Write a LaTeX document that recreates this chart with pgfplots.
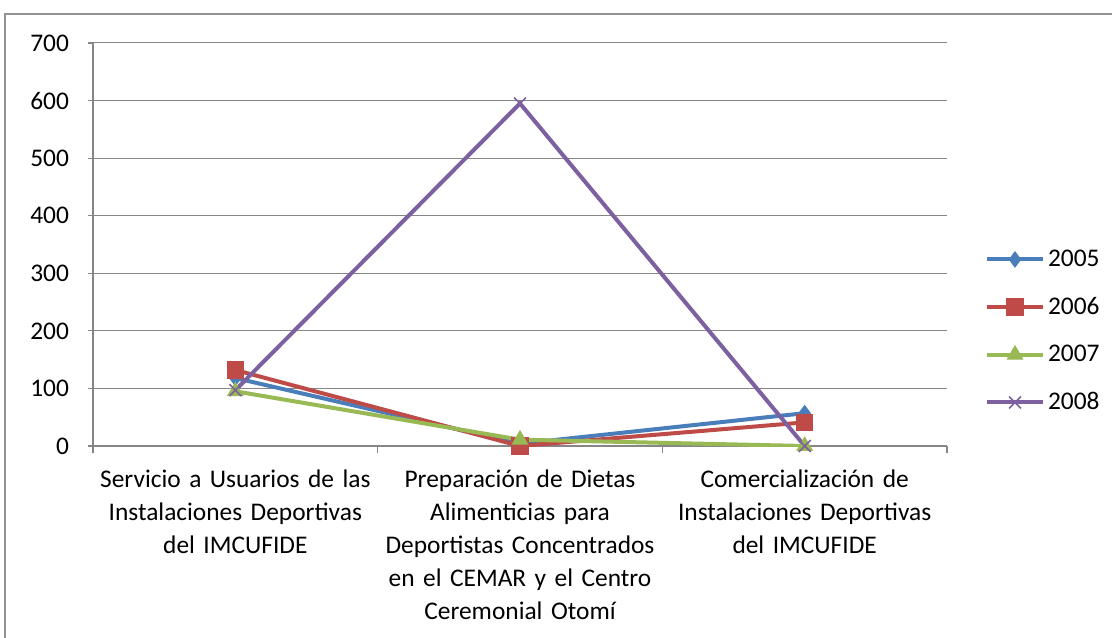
\documentclass[border=0pt]{standalone}
\usepackage{pgfplots}
\pgfplotsset{compat=1.18}
\usepackage{fontspec}
\setmainfont{Carlito}
\definecolor{c05}{HTML}{4A7EBB}
\definecolor{c06}{HTML}{BE4B48}
\definecolor{c07}{HTML}{98B954}
\definecolor{c08}{HTML}{7D60A0}
\definecolor{gridc}{HTML}{868686}
\begin{document}
\begin{tikzpicture}
\useasboundingbox (0,0) rectangle (556pt,318.5pt);
\draw[color=gridc!90, line width=1pt] (2.5pt,-2pt) -- (2.5pt,311.5pt) -- (560pt,311.5pt);
\begin{axis}[
  at={(46.5pt,95.5pt)}, anchor=south west,
  scale only axis, width=427pt, height=201.5pt,
  font=\fontsize{12.7}{16.5}\selectfont,
  /pgf/number format/assume math mode=true,
  xmin=-0.5, xmax=2.5, ymin=0, ymax=700,
  ytick={0,100,...,700},
  xtick={0,1,2},
  minor xtick={-0.5,0.5,1.5,2.5},
  xticklabels={{Servicio a Usuarios de las\\Instalaciones Deportivas\\del IMCUFIDE},
               {Preparación de Dietas\\Alimenticias para\\Deportistas Concentrados\\en el CEMAR y el Centro\\Ceremonial Otomí},
               {Comercialización de\\Instalaciones Deportivas\\del IMCUFIDE}},
  xticklabel style={align=center, text width=160pt, yshift=-6pt},
  yticklabel style={xshift=-6pt},
  axis x line*=bottom, axis y line*=left,
  axis line style={gridc, line width=0.6pt, -},
  ymajorgrids, grid style={gridc, line width=0.5pt},
  tick align=outside,
  major tick length=2.5pt, minor tick length=3.5pt,
  major x tick style={draw=none},
  minor x tick style={gridc, line width=0.6pt},
  major y tick style={gridc, line width=0.6pt},
  legend style={draw=none, fill=none, at={(1.037,0.285)}, anchor=west, row sep=9.9pt,
    font=\fontsize{12.7}{14}\selectfont, nodes={inner xsep=1.5pt}},
  legend cell align=left,
  legend image code/.code={\draw[mark repeat=2,mark phase=2] plot coordinates {(0pt,0pt)(14pt,0pt)(28pt,0pt)};},
  every axis plot/.append style={line width=2pt},
]
\addplot[c05, mark=diamond*, mark size=3.8pt, mark options={solid, line width=0.5pt}] coordinates {(0,118) (1,4) (2,57)};
\addlegendentry{2005}
\addplot[c06, mark=square*, mark size=4.1pt, mark options={solid, line width=0.5pt}] coordinates {(0,132) (1,0) (2,41)};
\addlegendentry{2006}
\addplot[c07, mark=triangle*, mark size=4.4pt, mark options={solid, line width=0.5pt}] coordinates {(0,95) (1,11) (2,0)};
\addlegendentry{2007}
\addplot[c08, mark=x, mark size=4.2pt, mark options={solid, line width=0.8pt}] coordinates {(0,97) (1,595) (2,0)};
\addlegendentry{2008}
\end{axis}
\end{tikzpicture}
\end{document}
